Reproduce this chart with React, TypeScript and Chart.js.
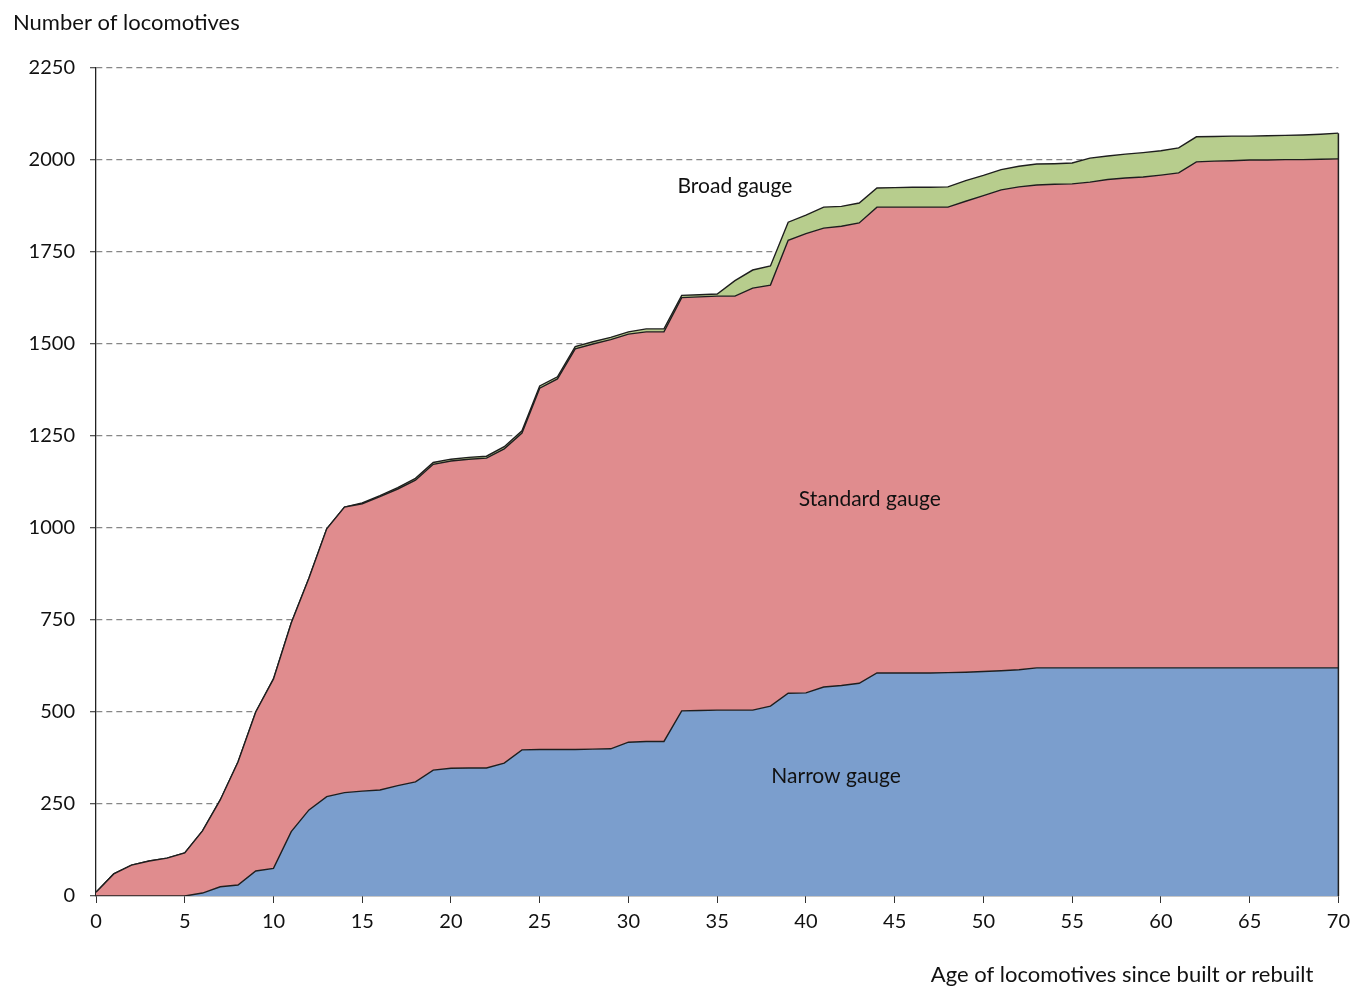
import React, { useEffect, useRef } from "react";
import { Chart, registerables } from "chart.js";

Chart.register(...registerables);

const AGES = [
  0, 1, 2, 3, 4, 5, 6, 7, 8, 9, 10, 11, 12, 13, 14, 15, 16, 17, 18, 19, 20,
  21, 22, 23, 24, 25, 26, 27, 28, 29, 30, 31, 32, 33, 34, 35, 36, 37, 38, 39,
  40, 41, 42, 43, 44, 45, 46, 47, 48, 49, 50, 51, 52, 53, 54, 55, 56, 57, 58,
  59, 60, 61, 62, 63, 64, 65, 66, 67, 68, 69, 70,
];

const NARROW = [
  0, 0, 0, 0, 0, 0, 8, 25, 30, 68, 75, 175, 234, 270, 281, 285, 288, 300, 310,
  342, 347, 348, 348, 361, 397, 398, 398, 398, 399, 400, 418, 420, 420, 503,
  504, 505, 505, 505, 516, 551, 552, 568, 572, 578, 606, 606, 606, 606, 607,
  608, 610, 612, 615, 620, 620, 620, 620, 620, 620, 620, 620, 620, 620, 620,
  620, 620, 620, 620, 620, 620, 620,
];

const STANDARD = [
  10, 60, 84, 95, 103, 117, 169, 236, 334, 432, 515, 567, 630, 728, 776, 781,
  797, 806, 820, 831, 835, 839, 842, 854, 861, 982, 1007, 1089, 1101, 1112,
  1109, 1113, 1113, 1123, 1124, 1125, 1125, 1147, 1144, 1231, 1248, 1247, 1248,
  1251, 1266, 1266, 1266, 1266, 1265, 1280, 1293, 1307, 1312, 1312, 1314, 1315,
  1320, 1327, 1331, 1334, 1339, 1345, 1375, 1377, 1378, 1380, 1380, 1381, 1381,
  1382, 1383,
];

const BROAD = [
  0, 0, 0, 0, 0, 0, 0, 0, 0, 0, 0, 0, 0, 0, 0, 2, 3, 4, 5, 5, 5, 5, 5, 6, 6, 6,
  6, 6, 6, 6, 6, 8, 8, 6, 6, 6, 42, 49, 52, 49, 50, 57, 54, 54, 52, 53, 54, 54,
  55, 56, 55, 55, 56, 57, 56, 57, 65, 64, 65, 66, 66, 68, 68, 67, 67, 65, 66,
  66, 67, 68, 70,
];

const SERIES_NAMES = ["Narrow gauge", "Standard gauge", "Broad gauge"];
const SERIES_COLORS = ["#7b9ecd", "#e08c8e", "#b7cd8d"];

const AREA_LABELS = ["Narrow gauge", "Standard gauge", "Broad gauge"];
const AREA_LABEL_X = [41.7, 43.6, 36.0];
const AREA_LABEL_Y = [326, 1079, 1929];

const Y_TITLE = "Number of locomotives";
const X_TITLE = "Age of locomotives since built or rebuilt";

const FONT = "Lato, 'Open Sans', 'DejaVu Sans', sans-serif";

const decorPlugin = {
  id: "decor",
  afterDatasetsDraw(chart: any) {
    const { ctx, scales } = chart;
    const xs = scales.x;
    const ys = scales.y;
    const last = AGES.length - 1;
    const topVal = NARROW[last] + STANDARD[last] + BROAD[last];
    const xp = xs.getPixelForValue(AGES[last]);
    ctx.save();
    ctx.strokeStyle = "#1e1e1e";
    ctx.lineWidth = 1.5;
    ctx.beginPath();
    ctx.moveTo(xp, ys.getPixelForValue(topVal));
    ctx.lineTo(xp, ys.getPixelForValue(0));
    ctx.stroke();

    ctx.font = `21px ${FONT}`;
    ctx.fillStyle = "#111";
    ctx.textAlign = "center";
    ctx.textBaseline = "middle";
    AREA_LABELS.forEach((t, i) => {
      ctx.fillText(
        t,
        xs.getPixelForValue(AREA_LABEL_X[i]),
        ys.getPixelForValue(AREA_LABEL_Y[i])
      );
    });
    ctx.restore();
  },
  afterDraw(chart: any) {
    const { ctx, chartArea } = chart;
    ctx.save();
    ctx.font = `22px ${FONT}`;
    ctx.fillStyle = "#111";
    ctx.textBaseline = "middle";
    ctx.textAlign = "left";
    ctx.fillText(Y_TITLE, chartArea.left - 83, chartArea.top - 45);
    ctx.textAlign = "right";
    ctx.fillText(X_TITLE, chartArea.right - 25, chartArea.bottom + 79);
    ctx.restore();
  },
};

export default function App() {
  const canvasRef = useRef<HTMLCanvasElement | null>(null);

  useEffect(() => {
    document.body.style.margin = "0";
    const canvas = canvasRef.current;
    if (!canvas) return;
    const seriesData = [NARROW, STANDARD, BROAD];
    const chart = new Chart(canvas, {
      type: "line",
      data: {
        labels: AGES,
        datasets: seriesData.map((arr, i) => ({
          label: SERIES_NAMES[i],
          data: arr.map((v, j) => ({ x: AGES[j], y: v })),
          backgroundColor: SERIES_COLORS[i],
          borderColor: "#1e1e1e",
          borderWidth: 1.4,
          pointRadius: 0,
          tension: 0,
          fill: i === 0 ? "origin" : "-1",
        })),
      },
      options: {
        animation: false,
        responsive: false,
        maintainAspectRatio: false,
        layout: { padding: { top: 68, right: 18, left: 0, bottom: 0 } },
        plugins: {
          legend: { display: false },
          tooltip: { enabled: false },
          title: { display: false },
        },
        scales: {
          x: {
            type: "linear",
            min: 0,
            max: 70,
            z: 1,
            afterFit: (scale: any) => {
              scale.height = 98;
            },
            ticks: {
              stepSize: 5,
              color: "#111",
              font: { family: FONT, size: 20 },
              padding: 7,
              maxRotation: 0,
              callback: (v: any) => String(v),
            },
            grid: {
              drawOnChartArea: false,
              drawTicks: true,
              tickLength: 7,
              tickColor: "#333",
              tickWidth: 1,
            },
            border: { display: true, color: "#222", width: 1.3 },
          },
          y: {
            stacked: true,
            min: 0,
            max: 2250,
            z: 1,
            afterFit: (scale: any) => {
              scale.width = 96;
            },
            ticks: {
              stepSize: 250,
              color: "#111",
              font: { family: FONT, size: 20 },
              padding: 15,
              callback: (v: any) => String(v),
            },
            grid: {
              color: (c: any) =>
                c.tick && c.tick.value === 0 ? "rgba(0,0,0,0)" : "rgba(95,95,95,0.75)",
              lineWidth: 1.3,
              drawTicks: true,
              tickLength: 6,
              tickColor: "#555",
              tickBorderDash: [],
            },
            border: { display: true, color: "#222", width: 1.3, dash: [6, 4] },
          },
        },
      },
      plugins: [decorPlugin],
    });
    return () => chart.destroy();
  }, []);

  return (
    <canvas
      ref={canvasRef}
      width={1357}
      height={994}
      style={{ display: "block", width: "1357px", height: "994px", background: "#fff" }}
    />
  );
}
